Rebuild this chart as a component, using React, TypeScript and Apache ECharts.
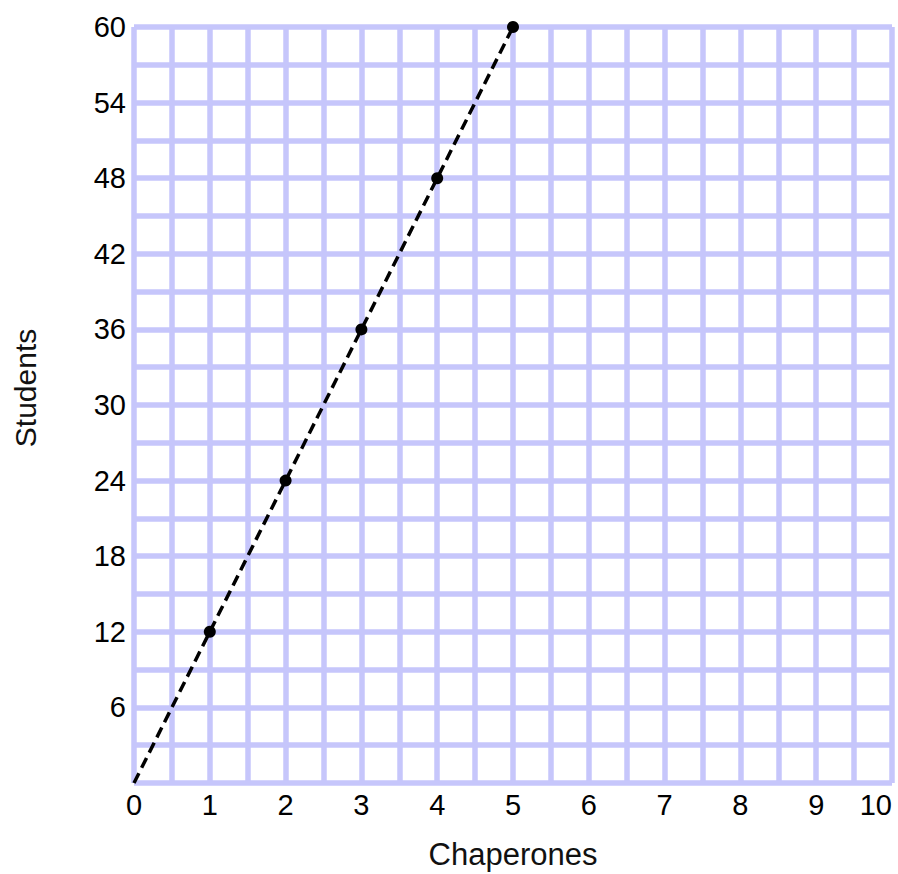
import React, { useEffect, useRef } from "react";
import * as echarts from "echarts";

const chaperones = [0, 1, 2, 3, 4, 5];
const students = [0, 12, 24, 36, 48, 60];
const xAxisName = "Chaperones";
const yAxisName = "Students";

export default function App() {
  const ref = useRef<HTMLDivElement>(null);
  useEffect(() => {
    if (!ref.current) return;
    const chart = echarts.init(ref.current, undefined, { renderer: "svg" });
    const gridLine = () => ({
      show: true,
      lineStyle: {
        color: "#c6c6fb",
        width: 5.5,
        opacity: 1,
      },
    });
    const font = "Liberation Sans, Arial, sans-serif";
    chart.setOption({
      animation: false,
      backgroundColor: "#ffffff",
      grid: {
        left: 134,
        right: 6,
        top: 27,
        bottom: 91,
        containLabel: false,
        outerBoundsMode: "none",
      },
      graphic: [
        {
          type: "text",
          x: 25,
          y: 388,
          rotation: Math.PI / 2,
          style: {
            text: yAxisName,
            font: `30px ${font}`,
            fill: "#111",
            align: "center",
            verticalAlign: "middle",
          },
        },
      ],
      xAxis: {
        type: "value",
        min: 0,
        max: 10,
        interval: 0.5,
        name: xAxisName,
        nameLocation: "middle",
        nameGap: 56,
        nameTextStyle: { fontFamily: font, fontSize: 31, color: "#111" },
        axisLine: { show: false },
        axisTick: { show: false },
        axisLabel: {
          fontFamily: font,
          fontSize: 29,
          color: "#000",
          margin: 7,
          alignMaxLabel: "right",
          formatter: (v: number) => (v % 1 === 0 ? String(v) : ""),
        },
        splitLine: gridLine(),
      },
      yAxis: {
        type: "value",
        min: 0,
        max: 60,
        interval: 3,
        axisLine: { show: false },
        axisTick: { show: false },
        axisLabel: {
          fontFamily: font,
          fontSize: 29,
          color: "#000",
          margin: 8,
          formatter: (v: number) => (v % 6 === 0 && v !== 0 ? String(v) : ""),
        },
        splitLine: gridLine(),
      },
      series: [
        {
          type: "line",
          data: chaperones.map((c, i) => ({
            value: [c, students[i]],
            symbolSize: c === 0 ? 0 : 12,
          })),
          symbol: "circle",
          showSymbol: true,
          lineStyle: { color: "#000", width: 3.5, type: [11, 6] },
          itemStyle: { color: "#000" },
          z: 10,
        },
      ],
    });
    return () => chart.dispose();
  }, []);
  return (
    <div
      ref={ref}
      style={{ position: "fixed", left: 0, top: 0, width: 898, height: 874, background: "#fff" }}
    />
  );
}
